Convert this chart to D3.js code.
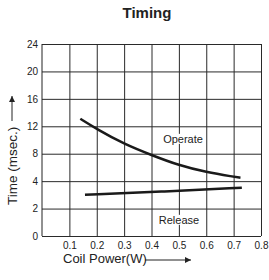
<!DOCTYPE html>
<meta charset="utf-8">
<style>
body { margin: 0; background: #fff; }
svg { font-family: "Liberation Sans", Arial, sans-serif; }
.grid line { stroke: #2a2a2a; stroke-width: 1; }
.grid path { display: none; }
.grid text { font-size: 10px; fill: #222; }
</style>
<body>
<script src="https://cdn.jsdelivr.net/npm/d3@7"></script>
<script>
// values
var yTicks = [0, 2, 4, 8, 12, 16, 20, 24];
var xTicks = [0.1, 0.2, 0.3, 0.4, 0.5, 0.6, 0.7, 0.8];
var operatePower = [0.14, 0.2, 0.3, 0.4, 0.5, 0.6, 0.7, 0.725];
var operateTime  = [13.1, 11.6, 9.4, 7.8, 6.3, 5.3, 4.65, 4.5];
var releasePower = [0.157, 0.45, 0.73];
var releaseTime  = [3.0, 3.25, 3.52];

var width = 269, height = 280;
var plotL = 42, plotR = 261, plotT = 44, plotB = 236;

var svg = d3.select("body").append("svg")
  .attr("width", width)
  .attr("height", height);

var x = d3.scaleLinear().domain([0, 0.8]).range([plotL, plotR]);

// y ticks are evenly spaced even though the values are not
var step = (plotB - plotT) / (yTicks.length - 1);
var y = d3.scaleLinear()
  .domain(yTicks)
  .range(yTicks.map(function(d, i) { return plotB - i * step; }));

svg.append("g")
  .attr("class", "grid")
  .attr("transform", "translate(" + plotL + ",0)")
  .call(d3.axisLeft(y).tickValues(yTicks).tickSize(-(plotR - plotL)).tickPadding(4));

svg.append("g")
  .attr("class", "grid")
  .attr("transform", "translate(0," + plotB + ")")
  .call(d3.axisBottom(x).tickValues(xTicks).tickSize(-(plotB - plotT)).tickPadding(6)
    .tickFormat(d3.format(".1f")));

// left border
svg.append("line")
  .attr("x1", plotL).attr("x2", plotL)
  .attr("y1", plotT).attr("y2", plotB)
  .attr("stroke", "#222");

// curve labels with white boxes over the grid
function label(txt, cx, cy) {
  var t = svg.append("text")
    .attr("x", cx).attr("y", cy)
    .attr("dy", "0.35em")
    .attr("text-anchor", "middle")
    .attr("font-size", 11)
    .attr("fill", "#222")
    .text(txt);
  var b = t.node().getBBox();
  svg.insert("rect", function() { return t.node(); })
    .attr("x", b.x - 1).attr("y", b.y + 1)
    .attr("width", b.width + 2).attr("height", b.height - 2)
    .attr("fill", "#fff");
}
label("Operate", 183, 139);
label("Release", 179, 220);

var line = d3.line()
  .x(function(d) { return x(d[0]); })
  .y(function(d) { return y(d[1]); })
  .curve(d3.curveBasis);

svg.append("path")
  .datum(d3.zip(operatePower, operateTime))
  .attr("d", line)
  .attr("fill", "none")
  .attr("stroke", "#1a1a1a")
  .attr("stroke-width", 2.5);

svg.append("path")
  .datum(d3.zip(releasePower, releaseTime))
  .attr("d", line)
  .attr("fill", "none")
  .attr("stroke", "#1a1a1a")
  .attr("stroke-width", 2.5);

// title
svg.append("text")
  .attr("x", 147).attr("y", 18)
  .attr("text-anchor", "middle")
  .attr("font-size", 15)
  .attr("font-weight", "bold")
  .attr("fill", "#222")
  .text("Timing");

// arrowhead
svg.append("defs").append("marker")
  .attr("id", "arr")
  .attr("viewBox", "0 0 10 10")
  .attr("refX", 10).attr("refY", 5)
  .attr("markerWidth", 6).attr("markerHeight", 6)
  .attr("markerUnits", "userSpaceOnUse")
  .attr("orient", "auto")
  .append("path")
  .attr("d", "M0,0L10,5L0,10z")
  .attr("fill", "#222");

// y axis title
svg.append("text")
  .attr("transform", "translate(17,205) rotate(-90)")
  .attr("text-anchor", "start")
  .attr("font-size", 13.5)
  .attr("fill", "#222")
  .text("Time (msec.)");
svg.append("line")
  .attr("x1", 12).attr("x2", 12)
  .attr("y1", 121).attr("y2", 96)
  .attr("stroke", "#222")
  .attr("marker-end", "url(#arr)");

// x axis title
svg.append("text")
  .attr("x", 63).attr("y", 263)
  .attr("font-size", 13)
  .attr("fill", "#222")
  .text("Coil Power(W)");
svg.append("line")
  .attr("x1", 145).attr("x2", 191)
  .attr("y1", 260).attr("y2", 260)
  .attr("stroke", "#222")
  .attr("marker-end", "url(#arr)");
</script>
</body>
